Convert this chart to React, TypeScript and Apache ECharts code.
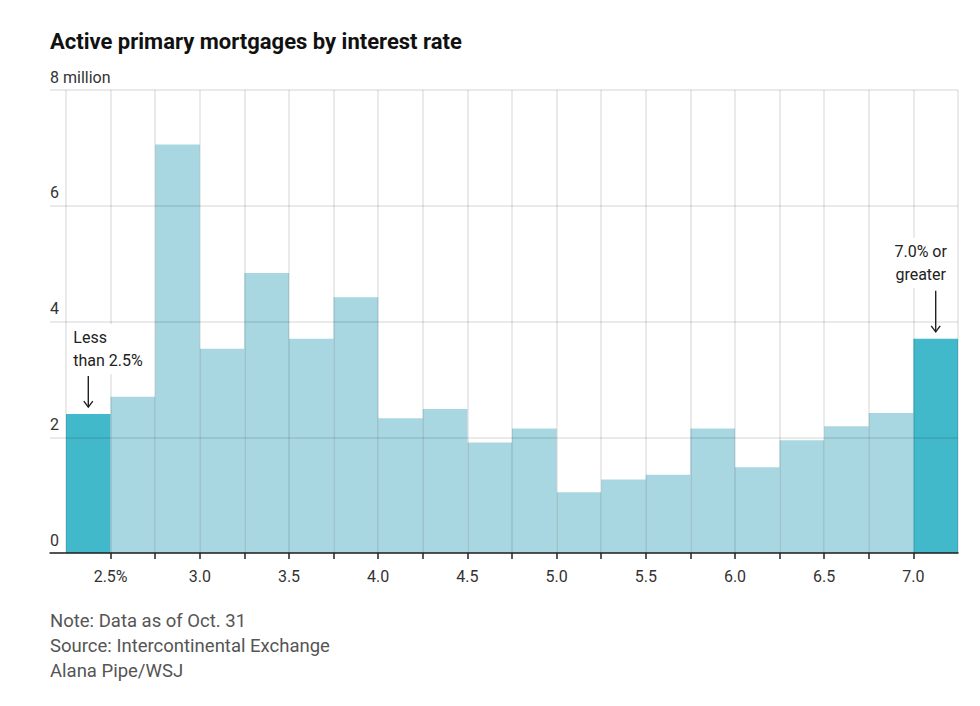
import React, { useEffect, useRef } from "react";
import * as echarts from "echarts";

// Bins of 0.25 percentage points; first and last are open-ended
const categories = [
  "Less than 2.5%", "2.5–2.74%", "2.75–2.99%", "3.0–3.24%", "3.25–3.49%",
  "3.5–3.74%", "3.75–3.99%", "4.0–4.24%", "4.25–4.49%", "4.5–4.74%",
  "4.75–4.99%", "5.0–5.24%", "5.25–5.49%", "5.5–5.74%", "5.75–5.99%",
  "6.0–6.24%", "6.25–6.49%", "6.5–6.74%", "6.75–6.99%", "7.0% or greater",
];
// Millions of active primary mortgages
const values = [
  2.4, 2.7, 7.06, 3.53, 4.84, 3.7, 4.42, 2.33, 2.49, 1.91,
  2.15, 1.05, 1.27, 1.35, 2.15, 1.48, 1.95, 2.19, 2.42, 3.7,
];
const highlightIndex = [0, 19];
// bin-edge ticks (edge index -> label)
const tickEdges = [1, 3, 5, 7, 9, 11, 13, 15, 17, 19];
const tickLabels = ["2.5%", "3.0", "3.5", "4.0", "4.5", "5.0", "5.5", "6.0", "6.5", "7.0"];
const yTopLabel = "8 million";

const title = "Active primary mortgages by interest rate";
const footLines = ["Note: Data as of Oct. 31", "Source: Intercontinental Exchange", "Alana Pipe/WSJ"];
const leftNote = "Less\nthan 2.5%";
const rightNote = "7.0% or\ngreater";

const FONT = "Roboto, 'Noto Sans', sans-serif";
const GRID_COLOR = "rgba(0,0,0,0.11)";

export default function App() {
  const ref = useRef<HTMLDivElement>(null);
  useEffect(() => {
    if (!ref.current) return;
    const chart = echarts.init(ref.current, null, { renderer: "svg" });
    const edges = categories.map((_, i) => i);
    const innerEdges = edges.slice(1);
    const staticGraphics = [
      {
        type: "text", left: 50, top: 30, z: 10,
        style: { text: title, font: `bold 22px ${FONT}`, fill: "#111" },
      },
      ...footLines.map((t, k) => ({
        type: "text", left: 50, top: 611 + k * 25, z: 10,
        style: { text: t, font: `18.5px ${FONT}`, fill: "#555" },
      })),
    ];
    const option: any = {
      animation: false,
      backgroundColor: "#fff",
      textStyle: { fontFamily: FONT },
      grid: [
        { left: 50, right: 22, top: 90, bottom: 153, containLabel: false },
        { left: 66, right: 22, top: 90, bottom: 153, containLabel: false },
      ],
      xAxis: [
        {
          gridIndex: 0, type: "value", min: 0, max: 1, z: 5,
          axisLine: { show: true, onZero: false, lineStyle: { color: "#222", width: 1.5 } },
          axisTick: { show: false }, axisLabel: { show: false }, splitLine: { show: false },
        },
        {
          gridIndex: 1, type: "value", min: 0, max: categories.length, position: "bottom", z: 5,
          axisLine: { show: false, onZero: false },
          axisTick: { show: true, customValues: innerEdges, length: 6, lineStyle: { color: "#222", width: 1.5 } },
          axisLabel: {
            show: true, customValues: tickEdges, margin: 15,
            fontFamily: FONT, fontSize: 16, color: "#333",
            formatter: (v: number) => {
              const k = tickEdges.indexOf(Math.round(v));
              return k >= 0 ? tickLabels[k] : "";
            },
          },
          splitLine: { show: false },
        },
        {
          gridIndex: 1, type: "value", min: 0, max: categories.length, interval: 1, position: "top", z: 3,
          axisLine: { show: false }, axisTick: { show: false }, axisLabel: { show: false },
          splitLine: { show: true, lineStyle: { color: GRID_COLOR, width: 1.5 } },
        },
      ],
      yAxis: [
        {
          gridIndex: 0, type: "value", min: 0, max: 8, interval: 2, z: 3,
          axisLine: { show: false }, axisTick: { show: false },
          axisLabel: {
            inside: true, margin: 0, verticalAlign: "bottom", padding: [0, 0, 5, 0],
            fontFamily: FONT, fontSize: 16, color: "#333",
            formatter: (v: number) => (v === 8 ? yTopLabel : String(v)),
          },
          splitLine: { show: true, lineStyle: { color: GRID_COLOR, width: 1.5 } },
        },
        {
          gridIndex: 1, type: "value", min: 0, max: 8, show: false,
          splitLine: { show: false },
        },
      ],
      series: [
        {
          type: "custom", xAxisIndex: 1, yAxisIndex: 1, z: 2,
          data: values.map((v, i) => [edges[i], v, highlightIndex.includes(i) ? 1 : 0]),
          renderItem: (params: any, api: any) => {
            const i = api.value(0);
            const v = api.value(1);
            const hl = api.value(2);
            const p0 = api.coord([i, 0]);
            const p1 = api.coord([i + 1, v]);
            return {
              type: "rect",
              shape: { x: p0[0], y: p1[1], width: p1[0] - p0[0], height: p0[1] - p1[1] },
              style: { fill: hl ? "#42b8cb" : "#a9d7e1" },
            };
          },
        },
      ],
      graphic: staticGraphics,
    };
    chart.setOption(option);

    const finder = { xAxisIndex: 1, yAxisIndex: 1 };
    const first = chart.convertToPixel(finder as any, [0.5, values[0]]) as number[];
    const lastI = values.length - 1;
    const last = chart.convertToPixel(finder as any, [lastI + 0.5, values[lastI]]) as number[];
    const arrow = (x: number, y1: number, y2: number) => [
      { type: "line", z: 11, shape: { x1: x, y1, x2: x, y2 }, style: { stroke: "#222", lineWidth: 1.4 } },
      {
        type: "polyline", z: 11,
        shape: { points: [[x - 4.5, y2 - 6], [x, y2], [x + 4.5, y2 - 6]] },
        style: { stroke: "#222", lineWidth: 1.4, fill: "none" },
      },
    ];
    const noteStyle = {
      font: `16px ${FONT}`, fill: "#222", lineHeight: 23,
      backgroundColor: "#fff", padding: [2, 3, 2, 3],
    };
    chart.setOption({
      graphic: [
        ...staticGraphics,
        {
          type: "text", z: 10, x: first[0] - 18, y: first[1] - 90,
          style: { ...noteStyle, text: leftNote, align: "left", verticalAlign: "top" },
        },
        ...arrow(first[0], first[1] - 38, first[1] - 7),
        {
          type: "text", z: 10, x: last[0] - 15, y: last[1] - 101,
          style: { ...noteStyle, text: rightNote, align: "center", verticalAlign: "top" },
        },
        ...arrow(last[0], last[1] - 48, last[1] - 7),
      ],
    }, { replaceMerge: ["graphic"] } as any);

    return () => chart.dispose();
  }, []);
  return (
    <div
      ref={ref}
      style={{ position: "fixed", left: 0, top: 0, width: 980, height: 706, background: "#fff" }}
    />
  );
}
